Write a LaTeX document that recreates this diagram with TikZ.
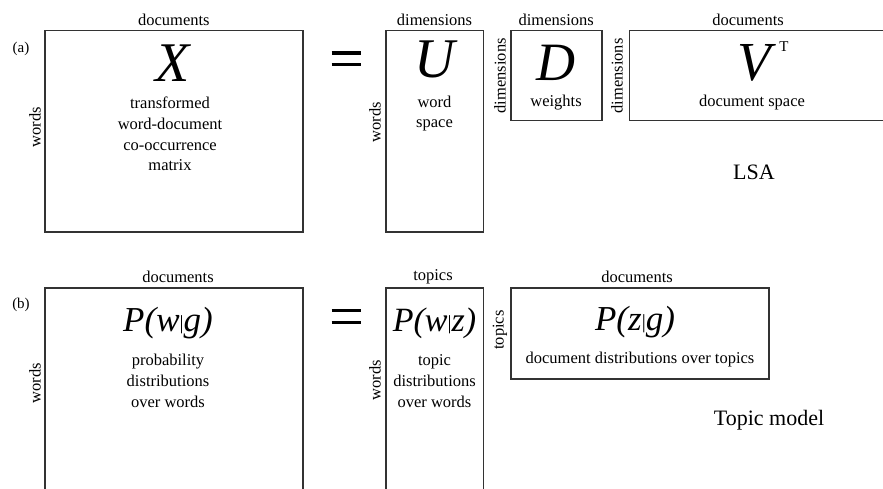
\documentclass[tikz,border=0pt]{standalone}
\usepackage{fontspec}
\setmainfont{Liberation Serif}
\newcommand{\condbar}{{\fontsize{20}{20}\selectfont\upshape\raisebox{2pt}{|}}}
\begin{document}
\begin{tikzpicture}[x=1pt,y=-1pt,
  mat/.style={draw=black!80,line width=1.6pt,inner sep=0pt},
  lbl/.style={font=\fontsize{16.5}{18}\selectfont,inner sep=0pt},
  vlbl/.style={lbl,rotate=90},
  body/.style={font=\fontsize{16.5}{20.7}\selectfont,align=center,inner sep=0pt},
  big/.style={font=\fontsize{56}{56}\selectfont\itshape,inner sep=0pt},
  prob/.style={font=\fontsize{35}{35}\selectfont\itshape,inner sep=0pt},
  title/.style={font=\fontsize{22}{24}\selectfont,inner sep=0pt},
  tag/.style={font=\fontsize{15}{16}\selectfont,inner sep=0pt},
  eqbar/.style={line width=3.8pt,black}]
\useasboundingbox (0,0) rectangle (883,489);
\clip (0,0) rectangle (883,489);
% ---------- (a) LSA ----------
\node[tag] (ta) at (21,49) {(a)};
\node[mat,minimum width=257.7pt,minimum height=201pt] (X) at (173.85,131.2) {};
\node[mat,minimum width=97.6pt,minimum height=201pt] (U) at (434.5,131.2) {};
\node[mat,minimum width=91pt,minimum height=90pt] (D) at (556.2,75.7) {};
\node[mat,minimum width=260.7pt,minimum height=90pt] (V) at (759.65,75.7) {};
\node[lbl] (Xt) at (X.north |- 0,20) {documents};
\node[lbl] (Ut) at (U.north |- 0,20) {dimensions};
\node[lbl] (Dt) at (D.north |- 0,20) {dimensions};
\node[lbl] (Vt) at (748,20) {documents};
\node[vlbl] (Xl) at (35,127) {words};
\node[vlbl] (Ul) at (375,122) {words};
\node[vlbl] (Dl) at (500,75.7) {dimensions};
\node[vlbl] (Vl) at (617,76) {dimensions};
\node[big] (Xs) at (173,63) {X};
\node[big] (Us) at (434.5,59) {U};
\node[body] (Xb) at (170,134) {transformed\\word-document\\co-occurrence\\matrix};
\node[body] (Ub) at (434.5,113.5) {word\\space};
\node[big,font=\fontsize{54}{54}\selectfont\itshape] (Ds) at (556,63) {D};
\node[big,font=\fontsize{55}{55}\selectfont\itshape] (Vs) at (754,63) {V};
\node[body] (Db) at (556,103) {weights};
\node[tag] (VT) at (784,47) {T};
\node[body] (Vb) at (752,103) {document space};
\node[title] (LSA) at (754,172) {LSA};
\coordinate (ea1) at (331.7,53.3); \coordinate (ea2) at (360.7,53.3);
\coordinate (ea3) at (331.7,64.5); \coordinate (ea4) at (360.7,64.5);
\draw[eqbar] (ea1) -- (ea2);
\draw[eqbar] (ea3) -- (ea4);
% ---------- (b) Topic model ----------
\node[tag] (tb) at (21,305) {(b)};
\node[mat,minimum width=257.7pt,minimum height=205pt] (PWG) at (173.85,390.2) {};
\node[mat,minimum width=97.6pt,minimum height=205pt] (PWZ) at (434.5,390.2) {};
\node[mat,minimum width=258pt,minimum height=91.3pt] (PZG) at (640,333.35) {};
\node[lbl] (PWGt) at (178,276.7) {documents};
\node[lbl] (PWZt) at (433,276.7) {topics};
\node[lbl] (PZGt) at (637,276.7) {documents};
\node[vlbl] (PWGl) at (35,383) {words};
\node[vlbl] (PWZl) at (375,380) {words};
\node[vlbl] (PZGl) at (500,330) {topics};
\node[prob] (PWGs) at (168,323) {P(w\condbar g)};
\node[body] (PWGb) at (168,381) {probability\\distributions\\over words};
\node[prob,font=\fontsize{34}{34}\selectfont\itshape] (PWZs) at (434.5,323) {P(w\condbar z)};
\node[body] (PWZb) at (434.5,381) {topic\\distributions\\over words};
\node[prob] (PZGs) at (635,322) {P(z\condbar g)};
\node[body] (PZGb) at (640,360) {document distributions over topics};
\node[title] (TM) at (769,420) {Topic model};
\coordinate (eb1) at (331.7,310.5); \coordinate (eb2) at (360.7,310.5);
\coordinate (eb3) at (331.7,322.5); \coordinate (eb4) at (360.7,322.5);
\draw[eqbar] (eb1) -- (eb2);
\draw[eqbar] (eb3) -- (eb4);
\end{tikzpicture}
\end{document}
